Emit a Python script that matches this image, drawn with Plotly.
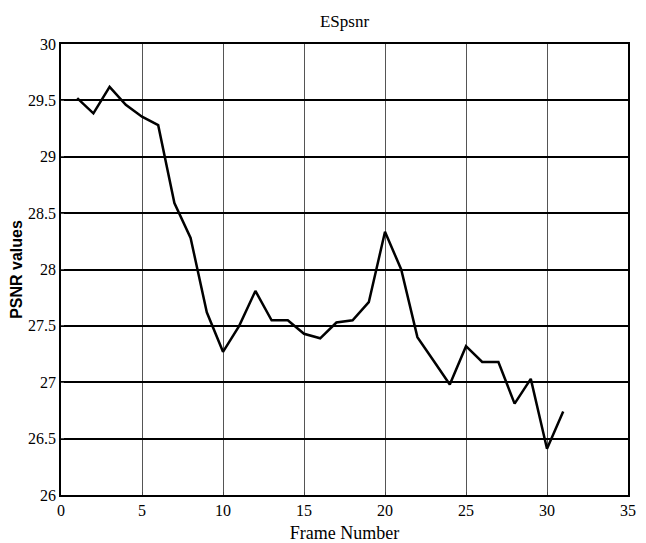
import plotly.graph_objects as go

frames = list(range(1, 32))
psnr = [29.52, 29.385, 29.62, 29.46, 29.355, 29.28, 28.59, 28.28, 27.62, 27.27,
        27.50, 27.81, 27.55, 27.55, 27.43, 27.39, 27.53, 27.55, 27.71, 28.335,
        28.0, 27.40, 27.19, 26.98, 27.32, 27.18, 27.18, 26.81, 27.03, 26.41, 26.74]

x_ticks = [0, 5, 10, 15, 20, 25, 30, 35]
y_ticks = [26, 26.5, 27, 27.5, 28, 28.5, 29, 29.5, 30]
y_labels = ["26", "26.5", "27", "27.5", "28", "28.5", "29", "29.5", "30"]

fig = go.Figure()
fig.add_trace(go.Scatter(x=frames, y=psnr, mode="lines",
                         line=dict(color="black", width=2.5), showlegend=False))

font = "Liberation Serif"
fig.update_layout(
    width=638, height=535,
    margin=dict(l=53, r=18, t=36, b=48),
    paper_bgcolor="white", plot_bgcolor="white",
    font=dict(family=font, color="black", size=16),
    title=dict(text="ESpsnr", x=0.5, xanchor="center", xref="paper",
               y=0.976, yref="container", yanchor="middle",
               font=dict(family=font, size=17, color="black")),
    xaxis=dict(range=[0, 35], tickvals=x_ticks, showgrid=True, automargin=False,
               gridcolor="#555555", gridwidth=1, showline=True, linecolor="black",
               linewidth=1.5, mirror=True, ticks="inside", ticklen=3,
               tickfont=dict(family=font, size=16),
               zeroline=False,
               title=dict(text="Frame Number", standoff=9,
                          font=dict(family="Liberation Serif", size=18))),
    yaxis=dict(range=[26, 30], tickvals=y_ticks, ticktext=y_labels, showgrid=True,
               automargin=False,
               gridcolor="black", gridwidth=1.5, showline=True, linecolor="black",
               linewidth=1.5, mirror=True, ticks="inside", ticklen=3,
               tickfont=dict(family=font, size=16), zeroline=False,
               title=dict(text="<b>PSNR values</b>", standoff=4,
                          font=dict(family="Liberation Sans", size=16))),
)

fig.write_html("out.html")
